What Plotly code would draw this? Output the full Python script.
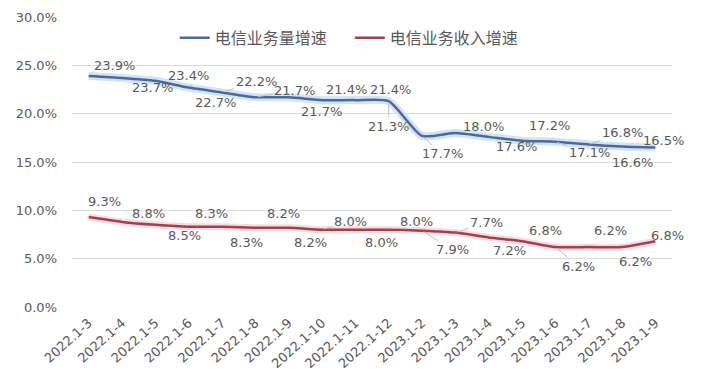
import plotly.graph_objects as go

categories = ["2022.1-3", "2022.1-4", "2022.1-5", "2022.1-6", "2022.1-7", "2022.1-8",
              "2022.1-9", "2022.1-10", "2022.1-11", "2022.1-12", "2023.1-2", "2023.1-3",
              "2023.1-4", "2023.1-5", "2023.1-6", "2023.1-7", "2023.1-8", "2023.1-9"]
volume_growth = [23.9, 23.7, 23.4, 22.7, 22.2, 21.7, 21.7, 21.4, 21.4, 21.3,
                 17.7, 18.0, 17.6, 17.2, 17.1, 16.8, 16.6, 16.5]
revenue_growth = [9.3, 8.8, 8.5, 8.3, 8.3, 8.2, 8.2, 8.0, 8.0, 8.0,
                  7.9, 7.7, 7.2, 6.8, 6.2, 6.2, 6.2, 6.8]
series_names = ["电信业务量增速", "电信业务收入增速"]
y_ticks = [0, 5, 10, 15, 20, 25, 30]

# label placement (pixel offsets) and leader-line flags -- styling only
vol_dx = [26, 30, 33, 27, 34, 39, 33, 24, 35, 0, 20, 28, 28, 27, 34, 34, 10, 8]
vol_dy = [-10, 10, -5, 15, -11, -7, 14, -11, -11, 25, 18, -7, 10, -15, 11, -12, 16, -7]
vol_lead = [0, 0, 0, 0, 1, 1, 0, 0, 0, 1, 1, 0, 0, 0, 1, 1, 0, 0]
rev_dx = [16, 26, 29, 23, 24, 28, 22, 28, 26, 28, 30, 31, 21, 23, 23, 22, 13, 12]
rev_dy = [-16, -8, 11, -13, 16, -14, 15, -8, 13, -8, 19, -10, 13, -11, 19, -17, 14, -6]
rev_lead = [0, 0, 0, 0, 0, 0, 0, 1, 0, 0, 1, 1, 0, 0, 1, 0, 0, 0]

FONT = "DejaVu Sans, Noto Sans CJK SC, sans-serif"
GRAY = "#595959"
BLUE = "#4A6A9E"
RED = "#A3404E"

fig = go.Figure()
# soft halo under lines
fig.add_trace(go.Scatter(x=categories, y=volume_growth, mode="lines",
                         line=dict(color="#D3E3F3", width=8, shape="spline", smoothing=0.6),
                         showlegend=False, hoverinfo="skip"))
fig.add_trace(go.Scatter(x=categories, y=revenue_growth, mode="lines",
                         line=dict(color="#F5DDE0", width=7, shape="spline", smoothing=0.6),
                         showlegend=False, hoverinfo="skip"))
fig.add_trace(go.Scatter(x=categories, y=volume_growth, mode="lines", name=series_names[0],
                         line=dict(color=BLUE, width=2.5, shape="spline", smoothing=0.6)))
fig.add_trace(go.Scatter(x=categories, y=revenue_growth, mode="lines", name=series_names[1],
                         line=dict(color=RED, width=2.5, shape="spline", smoothing=0.6)))

def add_labels(values, dxs, dys, leads):
    for c, v, dx, dy, ld in zip(categories, values, dxs, dys, leads):
        fig.add_annotation(x=c, y=v, text=f"{v:.1f}%", showarrow=True,
                           ax=dx, ay=dy, arrowhead=0, arrowwidth=1,
                           arrowcolor="#BFBFBF" if ld else "rgba(0,0,0,0)",
                           standoff=2, font=dict(family=FONT, size=13, color=GRAY))

add_labels(volume_growth, vol_dx, vol_dy, vol_lead)
add_labels(revenue_growth, rev_dx, rev_dy, rev_lead)

fig.update_layout(
    width=700, height=367,
    margin=dict(l=64, r=36, t=9, b=68, autoexpand=False),
    paper_bgcolor="white", plot_bgcolor="white",
    font=dict(family=FONT, color=GRAY),
    legend=dict(orientation="h", x=0.463, xanchor="center", y=0.928, yanchor="middle",
                font=dict(size=16, color=GRAY), bgcolor="rgba(0,0,0,0)",
                itemwidth=30, tracegroupgap=0, entrywidth=130, entrywidthmode="pixels"),
    xaxis=dict(type="category", tickangle=-42, showgrid=False, showline=False,
               ticks="", tickfont=dict(size=13, color=GRAY), range=[-0.5, 17.5],
               automargin=False, ticklabelstandoff=5),
    yaxis=dict(range=[0, 30], tickvals=y_ticks,
               ticktext=[f"{t:.1f}%" for t in y_ticks],
               showgrid=True, gridcolor="#D9D9D9", gridwidth=1, zeroline=False,
               showline=False, tickfont=dict(size=13, color=GRAY), ticklabelstandoff=14,
               automargin=False),
)

fig.write_html("out.html")
